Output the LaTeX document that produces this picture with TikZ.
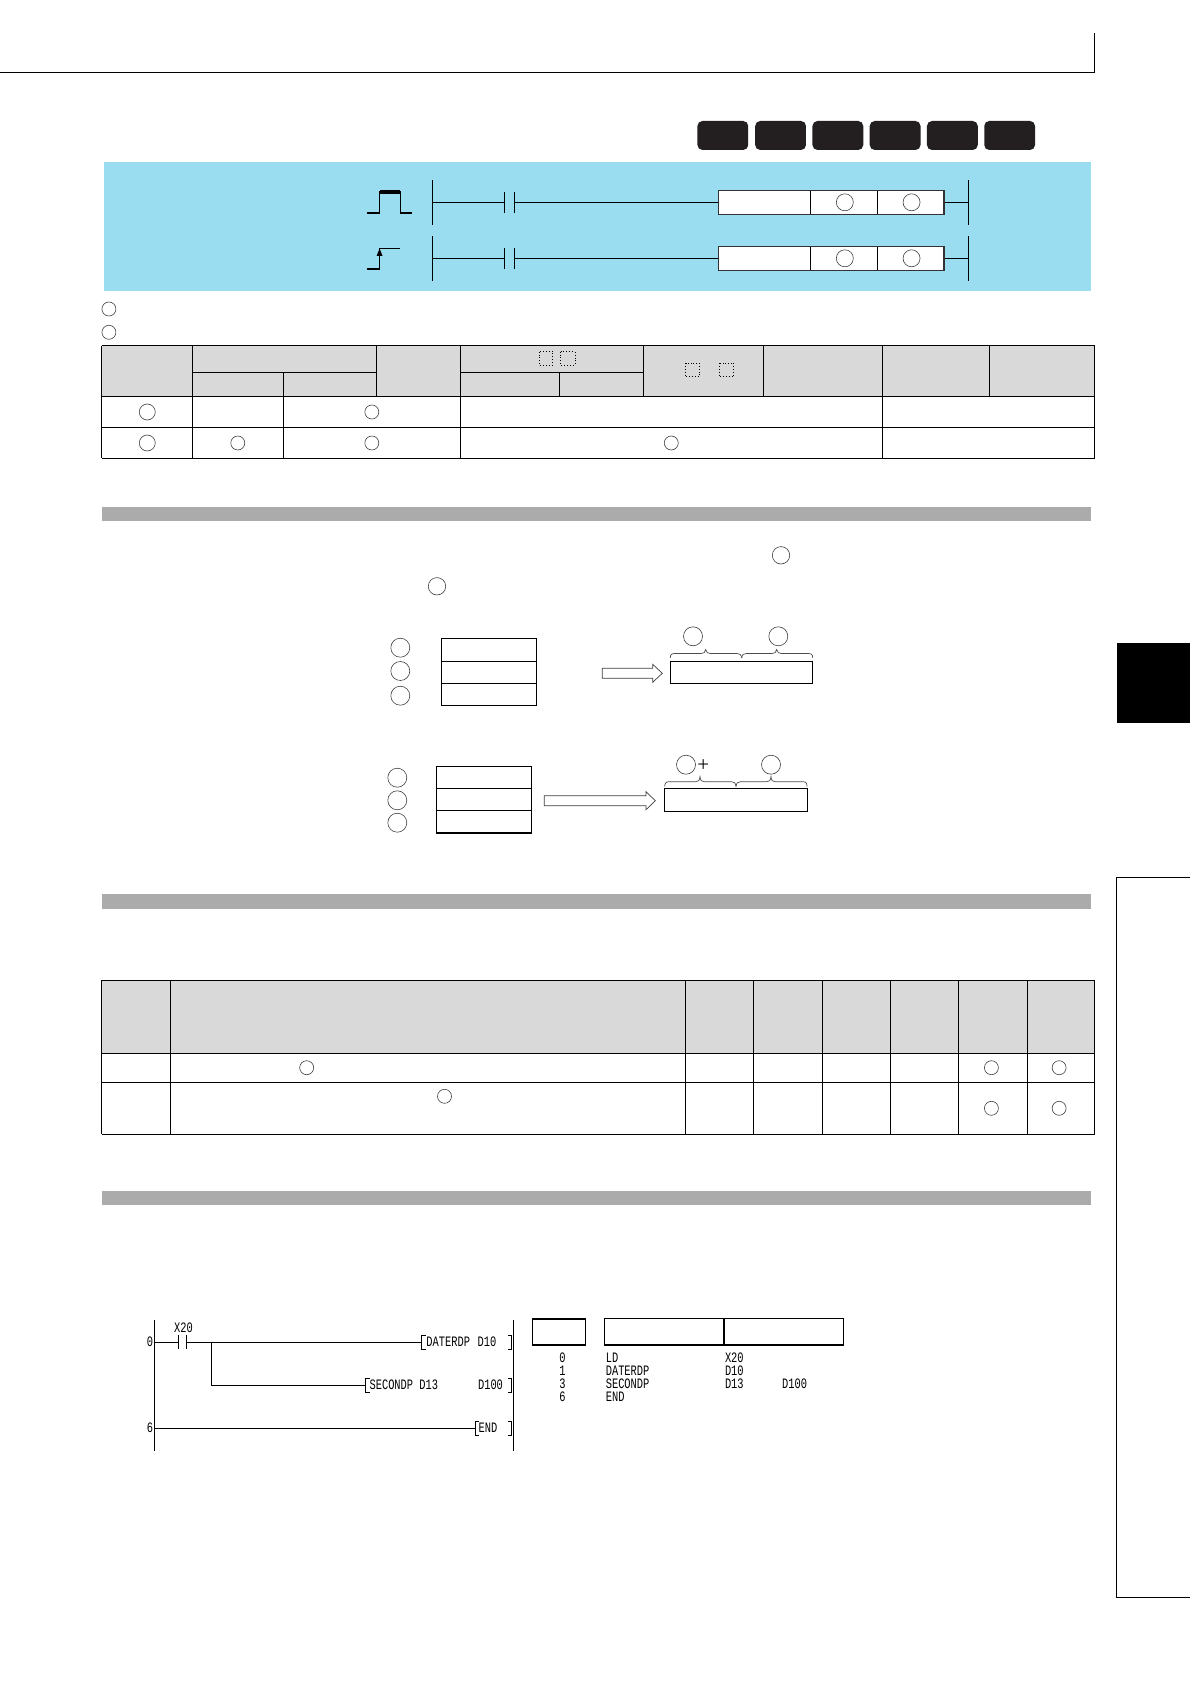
\documentclass[tikz,border=0pt]{standalone}
\usepackage{fontspec}
\setmainfont{Liberation Sans}
\newfontfamily\ladfont[FakeStretch=0.72]{Liberation Mono}
\newfontfamily\plusfont{Liberation Serif}
\definecolor{cyanbg}{HTML}{9ADCF0}
\definecolor{hdr}{HTML}{D9D9D9}
\definecolor{barc}{HTML}{ABABAB}
\definecolor{badge}{HTML}{231F20}
\begin{document}
\begin{tikzpicture}[x=0.5pt,y=-0.5pt,
  line/.style={draw=black,line width=0.5pt},
  thin line/.style={draw=black,line width=0.3pt},
  heavy/.style={draw=black,line width=0.8pt},
  oc/.style={circle,draw=black!75,line width=0.3pt,fill=none,inner sep=0pt,minimum size=7pt},
  ocb/.style={oc,minimum size=8pt},
  och/.style={oc,minimum size=9.5pt},
  badgebox/.style={fill=badge,rounded corners=2.5pt},
  bar/.style={fill=barc},
  dotbox/.style={draw=black,line width=0.45pt,densely dotted},
  ladtext/.style={inner sep=0pt,anchor=west,font=\ladfont\fontsize{7.2}{8}\selectfont},
  ladnum/.style={ladtext,anchor=center},
  brace/.style={draw=black!70,line width=0.35pt},
  hollow/.style={draw=black!75,line width=0.35pt,fill=white},
  fixa/.style={xscale=0.9958,xshift=0.19pt},
  fixb/.style={xscale=0.995,xshift=0.33pt}]
\useasboundingbox (0,0) rectangle (1190,1684);
\fill[white] (0,0) rectangle (1190,1684);

% page furniture
\draw[line] (0,73) -- (1094.5,73) -- (1094.5,33);
\fill[black] (1117,643) rectangle (1190,723);
\draw[line] (1190,877.5) -- (1116,877.5) -- (1116,1597) -- (1190,1597);

\begin{scope}[fixa]
% badges
\foreach \xa/\xb in {700/751,758/809,815.5/866.5,873/924,930.5/981.5,988/1039}
  \fill[badgebox] (\xa,121) rectangle (\xb,150);

% syntax band
\fill[cyanbg] (104.4,162) rectangle (1095,290.7);

\foreach \yy/\nm in {202.3/a,258.3/b}{
  \begin{scope}[shift={(0,\yy)}]
    \coordinate (busL\nm) at (433.8,0);
    \coordinate (busR\nm) at (972.4,0);
    \coordinate (conL\nm) at (506.3,0);
    \coordinate (conR\nm) at (516,0);
    \coordinate (boxL\nm) at (721.4,0);
    \coordinate (boxR\nm) at (947.5,0);
    \draw[thin line] (433.8,-22.3) -- (433.8,22.7);
    \draw[thin line] (972.4,-22.3) -- (972.4,22.7);
    \draw[line] (busL\nm) -- (conL\nm);
    \draw[line] (conR\nm) -- (boxL\nm);
    \draw[line] (boxR\nm) -- (busR\nm);
    \draw[line] (506.3,-10.7) -- (506.3,10.7);
    \draw[line] (516,-10.7) -- (516,10.7);
    \fill[white] (721.4,-11.6) rectangle (947.5,12);
    \draw[draw=black!80,line width=0.7pt] (721.4,-11.6) rectangle (947.5,12);
    \draw[thin line] (813.5,-11.6) -- (813.5,12);
    \draw[thin line] (881,-11.6) -- (881,12);
    \node[oc,minimum size=8.5pt] (s1\nm) at (848,0) {};
    \node[oc,minimum size=8.5pt] (d1\nm) at (915,0) {};
  \end{scope}
}
% pulse symbols
\draw[line width=0.6pt] (367.8,213) -- (380.8,213) -- (380.8,191.7) -- (401.8,191.7) -- (401.8,213) -- (413.5,213);
\fill[black] (380.8,190.5) rectangle (401.8,193.8);
\draw[line width=0.9pt] (367.8,269) -- (380.8,269) -- (380.8,254);
\fill[black] (377.8,256) -- (380.8,248.5) -- (383.8,256) -- cycle;
\draw[line width=0.4pt] (380.8,250) -- (380.8,248.7) -- (401.8,248.7);

% operand markers
\node[oc] (m1) at (109,309) {};
\node[oc] (m2) at (109,332.3) {};

% operand table
\fill[hdr] (101.8,345.7) rectangle (1099,397);
\draw[line] (101.8,345.7) -- (1099,345.7);
\draw[line] (193.3,372.3) -- (377.6,372.3);
\draw[line] (461.9,372.3) -- (645.6,372.3);
\draw[line] (101.8,397) -- (1099,397);
\draw[line] (101.8,427.3) -- (1099,427.3);
\draw[line] (101.8,458.3) -- (1099,458.3);
\draw[line] (193.3,345.7) -- (193.3,458.3);
\draw[line] (284.8,372.3) -- (284.8,458.3);
\draw[thin line] (377.6,345.7) -- (377.6,397);
\draw[line] (461.9,345.7) -- (461.9,458.3);
\draw[line] (561.2,372.3) -- (561.2,397);
\draw[line] (645.6,345.7) -- (645.6,397);
\draw[thin line] (766.5,345.7) -- (766.5,397);
\draw[line] (886,345.7) -- (886,458.3);
\draw[thin line] (992.6,345.7) -- (992.6,397);
\draw[dotbox] (541,351.7) rectangle (554.7,365);
\draw[dotbox] (562,351.7) rectangle (577,365);
\draw[dotbox] (688,363) rectangle (702,376.7);
\draw[dotbox] (722,363) rectangle (736.5,376.7);
\node[ocb] (t11) at (147.5,412) {};
\node[oc] (t12) at (373,412) {};
\node[ocb] (t21) at (147.5,443) {};
\node[oc] (t22) at (238.4,443) {};
\node[oc] (t23) at (373,443) {};
\node[oc] (t24) at (673.7,443) {};
\end{scope}

% section bars
\fill[bar] (102,507) rectangle (1091,521);
\fill[bar] (102,894) rectangle (1091,908.5);
\fill[bar] (102,1191) rectangle (1091,1205);

% function text markers
\node[oc,minimum size=8.7pt] (f1) at (781,555.3) {};
\node[oc,minimum size=8.7pt] (f2) at (437,586.3) {};

% first conversion
\node[och] (a1) at (400.3,647.7) {};
\node[och] (a2) at (400.3,671) {};
\node[och] (a3) at (400.3,695.7) {};
\draw[line] (441.3,638.3) rectangle (536.7,705.3);
\draw[line] (441.3,661.3) -- (536.7,661.3);
\draw[line] (441.3,683.3) -- (536.7,683.3);
\draw[hollow] (602.3,668.3) -- (652.7,668.3) -- (652.7,664.3) -- (662.3,673.3) -- (652.7,682.3) -- (652.7,678.3) -- (602.3,678.3) -- cycle;
\draw[line] (670.3,661) rectangle (812.7,683.3);
\draw[brace] (670.3,658) .. controls (670.3,654.5) and (671.5,653.5) .. (675,653.5) -- (701,653.5) .. controls (704,653.5) and (705,652.5) .. (705.7,649.5) .. controls (706.4,652.5) and (707.4,653.5) .. (710.4,653.5) -- (737,653.5) .. controls (740,653.5) and (741,654.5) .. (741.7,658);
\draw[brace] (741.7,658) .. controls (742.4,654.5) and (743.4,653.5) .. (746.4,653.5) -- (772,653.5) .. controls (775,653.5) and (776,652.5) .. (776.7,649.5) .. controls (777.4,652.5) and (778.4,653.5) .. (781.4,653.5) -- (808,653.5) .. controls (811.5,653.5) and (812.7,654.5) .. (812.7,658);
\node[och] (a4) at (693,636.3) {};
\node[och] (a5) at (778.3,636.3) {};

% second conversion
\node[och] (b1) at (397.3,777.7) {};
\node[och] (b2) at (397.3,800.3) {};
\node[och] (b3) at (397.3,822.7) {};
\draw[line] (436.3,766.3) rectangle (531.3,833);
\draw[line] (436.3,788.3) -- (531.3,788.3);
\draw[line] (436.3,810.3) -- (531.3,810.3);
\draw[heavy] (436.3,833) -- (531.3,833);
\draw[hollow] (544.3,795.7) -- (646,795.7) -- (646,791.7) -- (655.3,800.7) -- (646,809.7) -- (646,805.7) -- (544.3,805.7) -- cycle;
\draw[line] (664.7,788.3) rectangle (807,811);
\draw[brace] (664.7,786.5) .. controls (664.7,783) and (666,781.7) .. (669.5,781.7) -- (695.5,781.7) .. controls (698.5,781.7) and (699.5,780.7) .. (700,776.7) .. controls (700.5,780.7) and (701.5,781.7) .. (704.5,781.7) -- (731.5,781.7) .. controls (734.5,781.7) and (735.5,783) .. (736,786.5);
\draw[brace] (736,786.5) .. controls (736.5,783) and (737.5,781.7) .. (740.5,781.7) -- (766.5,781.7) .. controls (769.5,781.7) and (770.5,780.7) .. (771,776.7) .. controls (771.5,780.7) and (772.5,781.7) .. (775.5,781.7) -- (802.5,781.7) .. controls (806,781.7) and (807,783) .. (807,786.5);
\node[och] (b4) at (686,764.7) {};
\node[och] (b5) at (771,764.7) {};
\node[inner sep=0pt,font=\plusfont\fontsize{10.5}{10.5}\selectfont] (plus) at (703.3,765.5) {+};

% error table
\begin{scope}[fixa]
\fill[hdr] (101.8,980.3) rectangle (1099,1053.3);
\draw[line] (101.8,980.3) -- (1099,980.3);
\draw[line] (101.8,1053.3) -- (1099,1053.3);
\draw[line] (101.8,1082.3) -- (1099,1082.3);
\draw[line] (101.8,1134.3) -- (1099,1134.3);
\foreach \xx in {171,756.7,826,962.5} \draw[line] (\xx,980.3) -- (\xx,1134.3);
\foreach \xx in {688,894,1031} \draw[thin line] (\xx,980.3) -- (\xx,1134.3);
\node[oc] (e1) at (307.6,1067.7) {};
\node[oc] (e2) at (446,1096.3) {};
\node[oc] (e3) at (995.2,1067.7) {};
\node[oc] (e4) at (1063.2,1067.7) {};
\node[oc] (e5) at (995.2,1108.3) {};
\node[oc] (e6) at (1063.2,1108.3) {};
\end{scope}
% outer verticals of the two tables
\draw[line] (101.8,345.7) -- (101.8,458.3);
\draw[line] (1094.8,345.7) -- (1094.8,458.3);
\draw[line] (101.8,980.3) -- (101.8,1134.3);
\draw[line] (1094.8,980.3) -- (1094.8,1134.3);

% program example: ladder
\begin{scope}[fixb]
\coordinate (pl1) at (154.3,1320);
\coordinate (pl2) at (154.3,1450.7);
\coordinate (pr1) at (515,1320);
\coordinate (pr2) at (515,1450.7);
\draw[thin line] (pl1) -- (pl2);
\draw[thin line] (pr1) -- (pr2);
\coordinate (r1l) at (154.3,1342.3);
\coordinate (ct1) at (178.7,1342.3);
\coordinate (ct2) at (187,1342.3);
\coordinate (jn) at (212,1342.3);
\coordinate (r1r) at (423.4,1342.3);
\coordinate (jn2) at (212,1385.3);
\coordinate (r2r) at (366.8,1385.3);
\coordinate (r3l) at (154.3,1428.3);
\coordinate (r3r) at (476.8,1428.3);
\draw[line] (r1l) -- (ct1);
\draw[line] (ct2) -- (r1r);
\draw[line] (jn) -- (jn2) -- (r2r);
\draw[line] (r3l) -- (r3r);
\draw[line] (178.7,1335) -- (178.7,1349);
\draw[line] (187,1335) -- (187,1349);
\foreach \xx/\yy in {423.4/1342.3,366.8/1385.3,476.8/1428.3}
  \draw[line] (\xx+4,\yy-7.3) -- (\xx,\yy-7.3) -- (\xx,\yy+7) -- (\xx+4,\yy+7);
\foreach \yy in {1342.3,1385.3,1428.3}
  \draw[line] (510,\yy-7.3) -- (513.7,\yy-7.3) -- (513.7,\yy+7) -- (510,\yy+7);
\node[ladnum] (n0) at (150,1341.3) {0};
\node[ladnum] (n6) at (150,1427.3) {6};
\node[ladnum] (x20) at (183.7,1327.3) {X20};
\node[ladtext] (l1) at (427.5,1341.3) {DATERDP};
\node[ladtext] (l2) at (479,1341.3) {D10};
\node[ladtext] (l3) at (370.4,1384.3) {SECONDP};
\node[ladtext] (l4) at (420.5,1384.3) {D13};
\node[ladtext] (l5) at (479.4,1384.3) {D100};
\node[ladtext] (l6) at (480,1427.3) {END};

% program example: list
\draw[heavy,line width=0.75pt] (534.3,1319) rectangle (587.7,1345);
\draw[heavy,line width=0.75pt] (606.8,1318.7) rectangle (847,1345);
\draw[heavy,line width=0.75pt] (727,1318.7) -- (727,1345);
\foreach \yy/\n/\op in {1358/0/LD,1370.7/1/DATERDP,1383.7/3/SECONDP,1396.7/6/END}{
  \node[ladnum] at (564.7,\yy) {\n};
  \node[ladtext] at (607.8,\yy) {\op};
}
\node[ladtext] (v1) at (727.6,1358) {X20};
\node[ladtext] (v2) at (727.6,1370.7) {D10};
\node[ladtext] (v3) at (727.6,1383.7) {D13};
\node[ladtext] (v4) at (785,1383.7) {D100};
\end{scope}
\end{tikzpicture}
\end{document}
